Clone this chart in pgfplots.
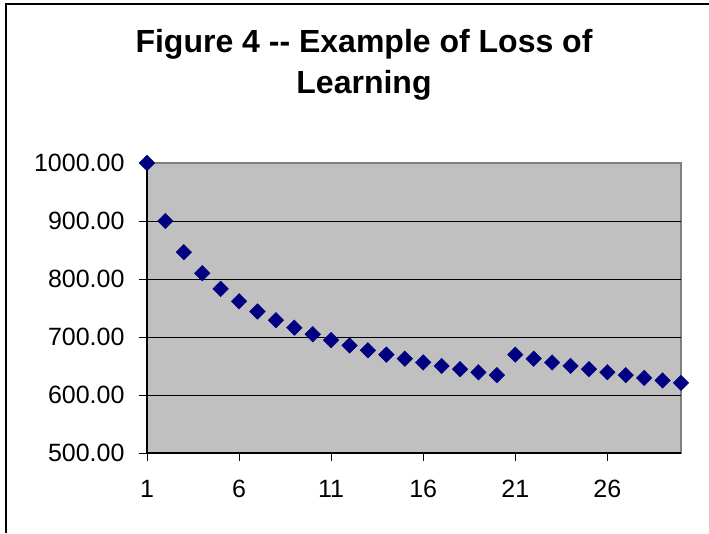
\documentclass[border=0pt]{standalone}
\usepackage{pgfplots}
\pgfplotsset{compat=1.18}
\usepackage{fontspec}
\setmainfont{Liberation Sans}
\definecolor{plotbg}{HTML}{C0C0C0}
\definecolor{navy}{HTML}{000080}
\definecolor{bordergray}{HTML}{808080}
\begin{document}
\begin{tikzpicture}[x=1pt,y=1pt]
\useasboundingbox (0,0) rectangle (709,533);
\draw[black,line width=1.6pt] (6,0) -- (6,529) -- (709,529);
\node[anchor=base,font=\fontsize{32}{38}\selectfont\bfseries] at (364,480) {Figure 4 -{}- Example of Loss of};
\node[anchor=base,font=\fontsize{32}{38}\selectfont\bfseries] at (364,439) {Learning};
\begin{axis}[
  at={(147pt,80pt)}, anchor=south west,
  scale only axis, width=534pt, height=290pt,
  xmin=1, xmax=30, ymin=500, ymax=1000,
  xtick={1,6,11,16,21,26},
  ytick={500,600,...,1000},
  extra y ticks={600,700,800,900},
  extra y tick labels={},
  extra y tick style={grid=major, major grid style={black, line width=0.9pt}},
  xtick pos=left, ytick pos=left,
  tick align=outside, major tick length=8pt,
  tick style={black, line width=0.9pt},
  axis line style={draw=bordergray, line width=1.6pt},
  axis background/.style={fill=plotbg},
  /pgf/number format/assume math mode=true,
  ticklabel style={font=\fontsize{25}{29}\selectfont},
  yticklabel style={xshift=-11pt, /pgf/number format/.cd, fixed, fixed zerofill, precision=2, 1000 sep={}},
  xticklabel style={yshift=-16pt, /pgf/number format/.cd, 1000 sep={}},
  clip=false,
]
\draw[black, line width=1.6pt] (rel axis cs:0,1) -- (rel axis cs:0,0) -- (rel axis cs:1,0);
\addplot[only marks, mark=square*, mark size=5.5pt, mark options={rotate=45, fill=navy, draw=navy}] coordinates {
(1,1000.0) (2,900.0) (3,846.2) (4,810.0) (5,783.0) (6,761.6) (7,744.0) (8,729.0)
(9,716.1) (10,704.7) (11,694.6) (12,685.4) (13,677.1) (14,669.6) (15,662.6)
(16,656.1) (17,650.1) (18,644.5) (19,639.2) (20,634.2)
(21,669.6) (22,662.6) (23,656.1) (24,650.1) (25,644.5) (26,639.2) (27,634.2)
(28,629.5) (29,625.1) (30,620.9)
};
\end{axis}
\end{tikzpicture}
\end{document}
